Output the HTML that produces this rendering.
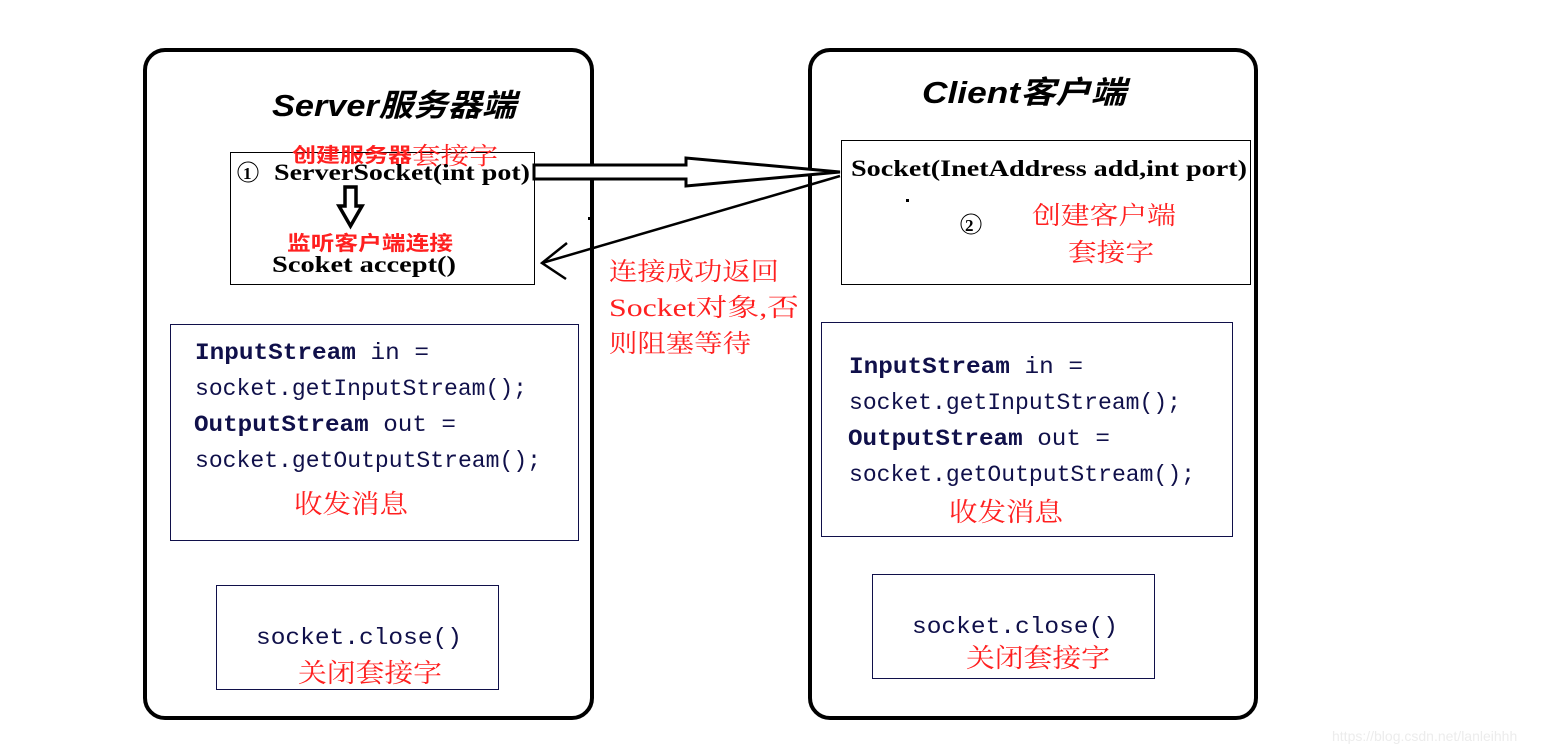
<!DOCTYPE html>
<html><head><meta charset="utf-8"><style>
html,body{margin:0;padding:0;background:#fff;}
svg{display:block;}
.m{font-family:"Liberation Mono","Noto Serif CJK SC",monospace;fill:#10104a;font-size:23px;}
.r{font-family:"Liberation Serif","Noto Serif CJK SC",serif;fill:#ff2020;}
.rb{font-family:"Liberation Sans","Noto Sans CJK SC",sans-serif;fill:#ff2020;font-weight:bold;}
.b{font-family:"Liberation Serif","Noto Serif CJK SC",serif;font-weight:bold;fill:#000;}
.t{font-family:"Liberation Sans","Noto Sans CJK SC",sans-serif;font-weight:bold;font-style:italic;fill:#000;font-size:31px;}
</style></head><body>
<svg width="1550" height="752" viewBox="0 0 1550 752" xmlns="http://www.w3.org/2000/svg">
<rect x="145" y="50" width="447" height="668" rx="20" fill="none" stroke="#000" stroke-width="4"/>
<rect x="810" y="50" width="446" height="668" rx="20" fill="none" stroke="#000" stroke-width="4"/>

<text class="t" x="272" y="116" textLength="244" lengthAdjust="spacingAndGlyphs">Server服务器端</text>
<text class="t" x="922" y="103" textLength="204" lengthAdjust="spacingAndGlyphs">Client客户端</text>

<rect x="230.5" y="152.5" width="304" height="132" fill="#fff" stroke="#000" stroke-width="1"/>
<text class="rb" x="292" y="162" font-size="20" textLength="120" lengthAdjust="spacingAndGlyphs">创建服务器</text>
<text class="r" x="412" y="164" font-size="24" textLength="86" lengthAdjust="spacingAndGlyphs">套接字</text>
<circle cx="248" cy="172" r="10" fill="none" stroke="#000" stroke-width="1"/>
<text class="b" x="243" y="179" font-size="17" font-weight="normal">1</text>
<text class="b" x="274" y="180" font-size="23" textLength="256" lengthAdjust="spacingAndGlyphs">ServerSocket(int pot)</text>
<polygon points="345,187 356,187 356,206 362,206 350.5,226 339,206 345,206" fill="#fff" stroke="#000" stroke-width="3.5"/>
<text class="rb" x="287" y="250" font-size="20" textLength="166" lengthAdjust="spacingAndGlyphs">监听客户端连接</text>
<text class="b" x="272" y="272" font-size="23" textLength="184" lengthAdjust="spacingAndGlyphs">Scoket accept()</text>

<rect x="841.5" y="140.5" width="409" height="144" fill="#fff" stroke="#000" stroke-width="1"/>
<text class="b" x="851" y="176" font-size="23" textLength="396" lengthAdjust="spacingAndGlyphs">Socket(InetAddress  add,int port)</text>
<rect x="906" y="199" width="3" height="3" fill="#000"/>
<circle cx="971" cy="224" r="10" fill="none" stroke="#000" stroke-width="1"/>
<text class="b" x="965" y="231" font-size="17">2</text>
<text class="r" x="1032" y="224" font-size="25" textLength="144" lengthAdjust="spacingAndGlyphs">创建客户端</text>
<text class="r" x="1068" y="261" font-size="25" textLength="86" lengthAdjust="spacingAndGlyphs">套接字</text>

<polygon points="534,165 686,165 686,158 840,172 686,186 686,179 534,179" fill="#fff" stroke="#000" stroke-width="3"/>
<line x1="840" y1="176" x2="542" y2="263" stroke="#000" stroke-width="2.5"/>
<polyline points="567,243 542,263 566,279" fill="none" stroke="#000" stroke-width="2.5"/>
<rect x="588" y="217" width="2" height="3" fill="#000"/>

<text class="r" x="609" y="280" font-size="25" textLength="170" lengthAdjust="spacingAndGlyphs">连接成功返回</text>
<text class="r" x="609" y="316" font-size="25" textLength="190" lengthAdjust="spacingAndGlyphs">Socket对象,否</text>
<text class="r" x="609" y="352" font-size="25" textLength="142" lengthAdjust="spacingAndGlyphs">则阻塞等待</text>

<rect x="170.5" y="324.5" width="408" height="216" fill="none" stroke="#10104a" stroke-width="1"/>
<text class="m" x="195" y="359" textLength="234" lengthAdjust="spacingAndGlyphs"><tspan font-weight="bold">InputStream</tspan> in =</text>
<text class="m" x="195" y="395" textLength="332" lengthAdjust="spacingAndGlyphs">socket.getInputStream();</text>
<text class="m" x="194" y="431" textLength="262" lengthAdjust="spacingAndGlyphs"><tspan font-weight="bold">OutputStream</tspan> out =</text>
<text class="m" x="195" y="467" textLength="346" lengthAdjust="spacingAndGlyphs">socket.getOutputStream();</text>
<text class="r" x="294" y="513" font-size="26" textLength="114" lengthAdjust="spacingAndGlyphs">收发消息</text>

<rect x="821.5" y="322.5" width="411" height="214" fill="none" stroke="#10104a" stroke-width="1"/>
<text class="m" x="849" y="373" textLength="234" lengthAdjust="spacingAndGlyphs"><tspan font-weight="bold">InputStream</tspan> in =</text>
<text class="m" x="849" y="409" textLength="332" lengthAdjust="spacingAndGlyphs">socket.getInputStream();</text>
<text class="m" x="848" y="445" textLength="262" lengthAdjust="spacingAndGlyphs"><tspan font-weight="bold">OutputStream</tspan> out =</text>
<text class="m" x="849" y="481" textLength="346" lengthAdjust="spacingAndGlyphs">socket.getOutputStream();</text>
<text class="r" x="949" y="521" font-size="26" textLength="114" lengthAdjust="spacingAndGlyphs">收发消息</text>

<rect x="216.5" y="585.5" width="282" height="104" fill="none" stroke="#10104a" stroke-width="1"/>
<text class="m" x="256" y="644" textLength="206" lengthAdjust="spacingAndGlyphs">socket.close()</text>
<text class="r" x="298" y="682" font-size="26" textLength="144" lengthAdjust="spacingAndGlyphs">关闭套接字</text>

<rect x="872.5" y="574.5" width="282" height="104" fill="none" stroke="#10104a" stroke-width="1"/>
<text class="m" x="912" y="633" textLength="206" lengthAdjust="spacingAndGlyphs">socket.close()</text>
<text class="r" x="966" y="667" font-size="26" textLength="144" lengthAdjust="spacingAndGlyphs">关闭套接字</text>

<text x="1332" y="741" font-family="Liberation Sans,sans-serif" font-size="14" fill="#ececec">https://blog.csdn.net/lanleihhh</text>
</svg>
</body></html>
